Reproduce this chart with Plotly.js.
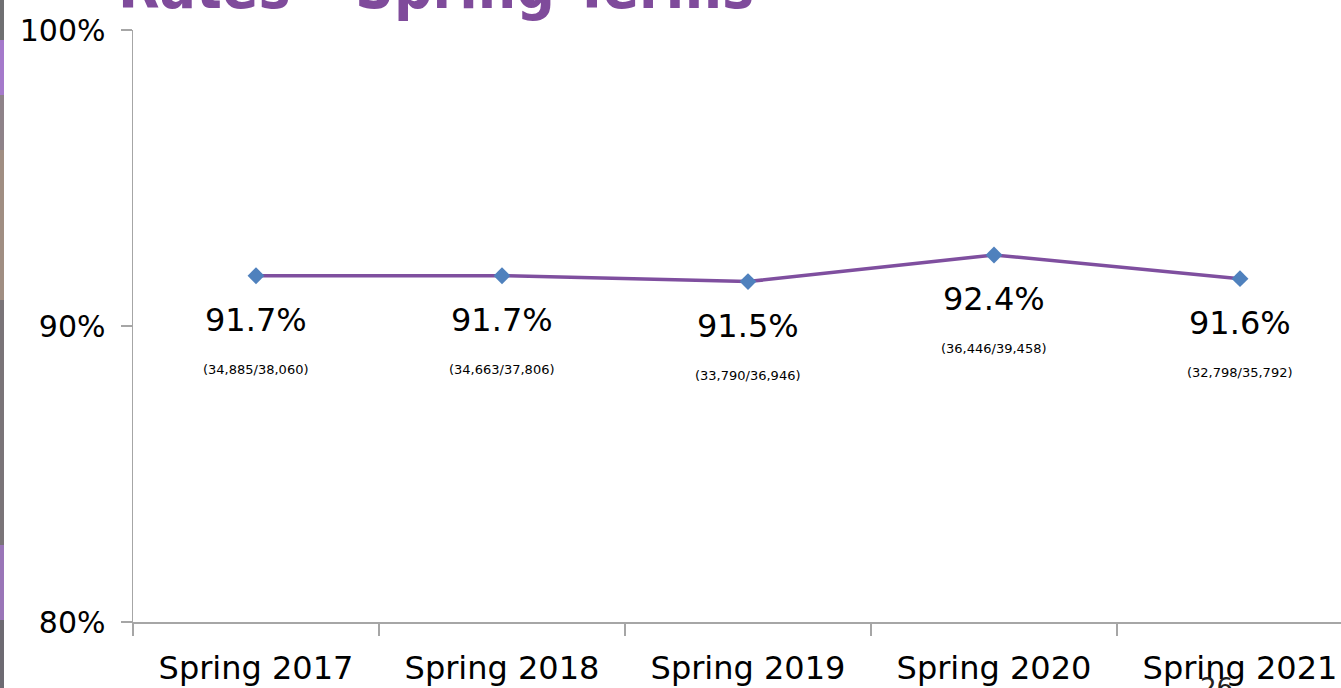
<!DOCTYPE html>
<html>
<head>
<meta charset="utf-8">
<script src="https://cdn.plot.ly/plotly-3.0.1.min.js"></script>
<style>
  html, body { margin: 0; padding: 0; background: #ffffff; overflow: hidden; }
  #chart { width: 1341px; height: 688px; }
</style>
</head>
<body>
<div id="chart"></div>
<script>
// ---- data ----
const categories = ['Spring 2017', 'Spring 2018', 'Spring 2019', 'Spring 2020', 'Spring 2021'];
const rates = [91.7, 91.7, 91.5, 92.4, 91.6];
const counts = ['(34,885/38,060)', '(34,663/37,806)', '(33,790/36,946)', '(36,446/39,458)', '(32,798/35,792)'];
const yTicks = [80, 90, 100];
const titleText = 'Rates \u2013 Spring Terms';
const pageNumber = '26';

// ---- layout helpers ----
const W = 1341, H = 688;
const M = { l: 133, r: 0, t: 30, b: 66 };
const plotW = W - M.l - M.r, plotH = H - M.t - M.b;
const px2x = p => (p - M.l) / plotW;
const px2y = p => (H - M.b - p) / plotH;

const FONT = 'DejaVu Sans, Noto Sans, sans-serif';

const trace = {
  type: 'scatter',
  mode: 'lines+markers',
  x: categories,
  y: rates,
  line: { color: '#7f4f9f', width: 3.5 },
  marker: { symbol: 'diamond', size: 13, color: '#4f81bd', line: { width: 0 } },
  hoverinfo: 'skip',
  cliponaxis: false
};

const annotations = [];
categories.forEach((c, i) => {
  annotations.push({
    x: c, y: rates[i], xref: 'x', yref: 'y',
    text: rates[i].toFixed(1) + '%', showarrow: false, yshift: -44,
    font: { family: FONT, size: 32, color: '#000000' }
  });
  annotations.push({
    x: c, y: rates[i], xref: 'x', yref: 'y',
    text: counts[i], showarrow: false, yshift: -94,
    font: { family: FONT, size: 13, color: '#000000' }
  });
});
// partially visible slide title
annotations.push({
  xref: 'paper', yref: 'paper', x: px2x(116), y: px2y(24),
  xanchor: 'left', yanchor: 'bottom', showarrow: false,
  text: '<b>' + titleText + '</b>',
  font: { family: 'DejaVu Sans Condensed, DejaVu Sans, sans-serif', size: 60, color: '#7f4b9b' }
});
// page number
annotations.push({
  xref: 'paper', yref: 'paper', x: px2x(1216), y: px2y(688),
  xanchor: 'center', yanchor: 'middle', showarrow: false,
  text: pageNumber,
  font: { family: FONT, size: 26, color: '#222222' }
});

// left decorative strip
const strip = [
  [0, 40, '#6f6f72'], [40, 95, '#a57acb'], [95, 150, '#8e8289'],
  [150, 300, '#a08e82'], [300, 545, '#7a7478'], [545, 620, '#9a76b8'], [620, 688, '#6d6a72']
];
const shapes = strip.map(s => ({
  type: 'rect', xref: 'paper', yref: 'paper',
  x0: px2x(0), x1: px2x(4), y0: px2y(s[1]), y1: px2y(s[0]),
  fillcolor: s[2], line: { width: 0 }, layer: 'above'
}));

const layout = {
  width: W, height: H,
  margin: M,
  paper_bgcolor: '#ffffff',
  plot_bgcolor: '#ffffff',
  showlegend: false,
  font: { family: FONT, color: '#000000' },
  xaxis: {
    type: 'category',
    range: [-0.5, -0.5 + plotW / 246],
    showgrid: false, zeroline: false,
    showline: true, linecolor: '#a6a6a6', linewidth: 1.5,
    ticks: 'outside', tickson: 'boundaries', ticklen: 12, tickcolor: '#a6a6a6', tickwidth: 1.5,
    ticklabelstandoff: 17,
    tickfont: { family: FONT, size: 32, color: '#000000' },
    fixedrange: true
  },
  yaxis: {
    range: [80, 100],
    tickvals: yTicks,
    ticktext: yTicks.map(v => v + '%'),
    showgrid: false, zeroline: false,
    showline: true, linecolor: '#a6a6a6', linewidth: 1.5,
    ticks: 'outside', ticklen: 11, tickcolor: '#a6a6a6', tickwidth: 1.5,
    ticklabelstandoff: 9,
    tickfont: { family: FONT, size: 30, color: '#000000' },
    fixedrange: true
  },
  annotations: annotations,
  shapes: shapes
};

Plotly.newPlot('chart', [trace], layout, { displayModeBar: false, staticPlot: true });
</script>
</body>
</html>
